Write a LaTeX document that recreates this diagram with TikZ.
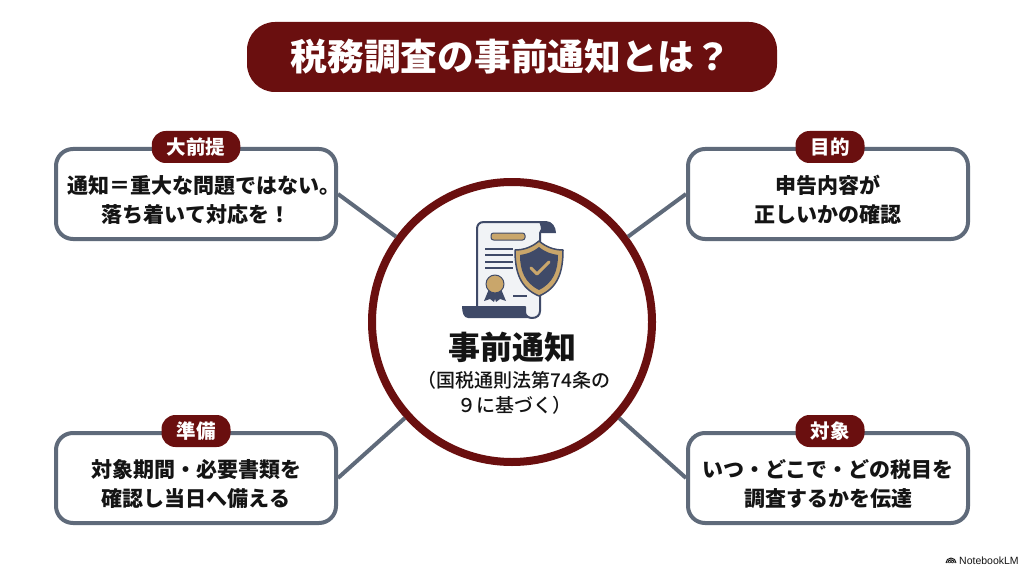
\documentclass[tikz,border=0pt]{standalone}
\usepackage{fontspec}
\setmainfont{Noto Sans CJK JP}
\newfontfamily\latinfont{Liberation Sans}
\newfontfamily\notefont{Noto Sans CJK JP Medium}
\usetikzlibrary{positioning}
\definecolor{wine}{HTML}{6A0F0F}
\definecolor{slate}{HTML}{5F6A7A}
\definecolor{navy}{HTML}{3F4A68}
\definecolor{gold}{HTML}{C9A66B}
\definecolor{paper}{HTML}{F1F3F6}
\definecolor{ink}{HTML}{141414}
\begin{document}
\begin{tikzpicture}[x=1pt,y=-1pt,line join=round,node distance=284pt]
\tikzstyle{infobox}=[draw=slate,line width=4pt,fill=white,rounded corners=17pt,minimum width=280pt,minimum height=90pt,align=center,text=ink,font=\fontsize{21}{29}\bfseries\selectfont,text height=60pt]
\tikzstyle{badge}=[fill=wine,rounded corners=14pt,minimum height=32pt,inner xsep=15pt,inner ysep=0pt,text=white,font=\fontsize{19.5}{22}\bfseries\selectfont]
\tikzstyle{link}=[draw=slate,line width=4pt]
\useasboundingbox (0,0) rectangle (1024,572);
\fill[white] (0,0) rectangle (1024,572);
% title
\node[fill=wine,rounded corners=28pt,minimum width=530pt,minimum height=70pt,text=white,font=\fontsize{36.7}{40}\bfseries\selectfont] (title) at (512,57) {\hspace*{-2pt}税務調査の事前通知とは？};
% boxes
\node[infobox] (premise) at (196,194) {\makebox[250pt]{\hspace*{16pt}通知＝重大な問題ではない。}\\落ち着いて対応を！};
\node[infobox] (purpose) at (828,194) {申告内容が\\正しいかの確認};
\node[infobox] (prepare) [below of=premise] {対象期間・必要書類を\\確認し当日へ備える};
\node[infobox] (target) [below of=purpose] {いつ・どこで・どの税目を\\調査するかを伝達};
\node[badge] (premisetag) at (premise.north) {大前提};
\node[badge,xshift=2pt] (purposetag) at (purpose.north) {目的};
\node[badge] (preparetag) at (prepare.north) {準備};
\node[badge,xshift=2pt] (targettag) at (target.north) {対象};
% centre
\node[circle,draw=wine,line width=8pt,fill=white,minimum size=280pt,inner sep=0pt] (hub) at (512,322) {};
\path[link] (hub) -- (premise.east);
\path[link] (hub) -- (purpose.west);
\path[link] (hub) -- (prepare.east);
\path[link] (hub) -- (target.west);
\node[text=ink,font=\fontsize{32}{36}\bfseries\selectfont] (hubname) at (512,347) {事前通知};
\node[text=ink,align=center,font=\notefont\fontsize{19}{25}\selectfont] (hubnote) at (514,393) {（国税通則法第74条の\\９に基づく）};
% document icon
\draw[navy,line width=2pt,fill=paper] (484,222) -- (546,222) -- (540,233) -- (540,311) .. controls (540,315) and (537,318) .. (532,318) .. controls (529,318) and (525,316) .. (525,312) -- (525,307) -- (477,307) -- (477,229) .. controls (477,225) and (479,222) .. (484,222) -- cycle;
\fill[navy] (538,221) -- (546,221) .. controls (552,221) and (556,227) .. (556,233) -- (541,233) .. controls (541,228) and (541,224) .. (538,221) -- cycle;
\fill[navy] (462,306) -- (525,306) -- (525,312) .. controls (525,315) and (527,317) .. (530,318) -- (468,318) .. controls (464,318) and (462,313) .. (462,306) -- cycle;
\fill[gold,draw=navy,line width=1pt,rounded corners=2.5pt] (491,233) rectangle (525,240);
\foreach \yy in {249,255,262,268}
  \draw[navy,line width=1.5pt] (485,\yy) -- (513,\yy);
\draw[navy,line width=1.5pt] (513,296) -- (527,296);
\fill[navy] (489,289) -- (484,301) -- (490,299) -- (494,302) -- (497,292) -- cycle;
\fill[navy] (501,289) -- (506,301) -- (500,299) -- (496,302) -- (493,292) -- cycle;
\fill[gold,draw=navy,line width=1pt] (495,284) circle (9pt);
% shield
\draw[navy,line width=1.5pt,fill=gold] (539,241) .. controls (546,247) and (554,250) .. (563,250) .. controls (563,272) and (558,288) .. (539,296) .. controls (520,288) and (515,272) .. (515,250) .. controls (524,250) and (532,247) .. (539,241) -- cycle;
\fill[navy] (539,247) .. controls (545,252) and (551,254) .. (558,255) .. controls (558,271) and (553,283) .. (539,290) .. controls (525,283) and (520,271) .. (520,255) .. controls (527,254) and (533,252) .. (539,247) -- cycle;
\draw[gold,line width=3pt,line cap=round] (531,268) -- (537,274) -- (549,262);
% logo
\foreach \rr in {1.5,3.2,5}
  \draw[ink,line width=1pt] (951-\rr,563) arc[start angle=180,end angle=0,radius=\rr pt];
\node[text=ink,inner sep=0pt,anchor=west,font=\latinfont\fontsize{10.5}{12}\selectfont] (logo) at (959,561) {NotebookLM};
\end{tikzpicture}
\end{document}
